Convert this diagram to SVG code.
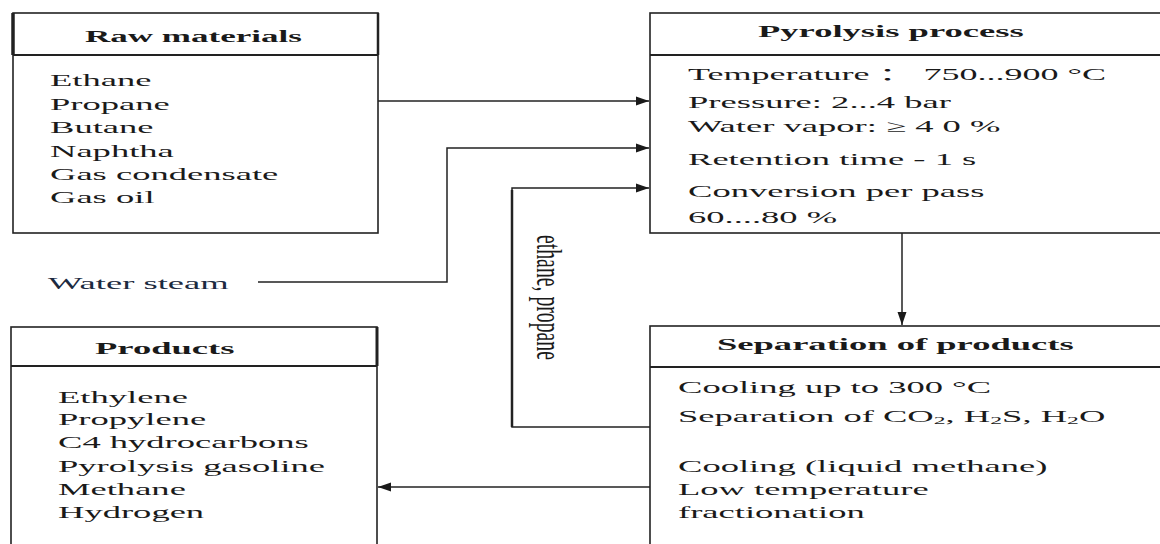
<svg xmlns="http://www.w3.org/2000/svg" width="1160" height="544" viewBox="0 0 1160 544">
<style>
.t{font-family:"Liberation Serif","Noto Sans CJK SC",serif;font-size:17px;fill:#1a1a1a}
.h{font-weight:bold}
.box{fill:#fff;stroke:#222;stroke-width:1.6}
.sep{stroke:#222;stroke-width:2}
.conn{fill:none;stroke:#222;stroke-width:1.5}
</style>
<defs>
<marker id="arr" markerUnits="userSpaceOnUse" markerWidth="14" markerHeight="10" refX="13" refY="5" orient="auto">
<path d="M0,0.5 L13,5 L0,9.5 Z" fill="#1a1a1a"/>
</marker>
</defs>
<rect width="1160" height="544" fill="#fff"/>

<g id="connectors">
<line class="conn" x1="378" y1="101" x2="649" y2="101" marker-end="url(#arr)"/>
<polyline class="conn" points="258,282 447,282 447,148 649,148" marker-end="url(#arr)"/>
<polyline class="conn" points="650,427 512,427 512,188 649,188" marker-end="url(#arr)"/>
<line x1="512" y1="190" x2="512" y2="427" stroke="#222" stroke-width="2.5"/>
<line class="conn" x1="902" y1="233" x2="902" y2="325" marker-end="url(#arr)"/>
<line class="conn" x1="650" y1="487" x2="378" y2="487" marker-end="url(#arr)"/>
<text class="t" transform="translate(537,235) scale(2.15,1) rotate(90)" textLength="125" lengthAdjust="spacingAndGlyphs">ethane, propane</text>
</g>

<g id="raw-materials">
<rect class="box" x="13" y="13" width="365" height="220"/>
<line class="sep" x1="13" y1="55" x2="378" y2="55"/>
<line x1="13" y1="13" x2="13" y2="55" stroke="#222" stroke-width="3.5"/>
<line x1="378" y1="13" x2="378" y2="55" stroke="#222" stroke-width="2.5"/>
<text class="t h" transform="translate(85,42) scale(2.06,1)">Raw materials</text>
<text class="t" transform="translate(50,86) scale(2.15,1)">Ethane</text>
<text class="t" transform="translate(50,110) scale(2.15,1)">Propane</text>
<text class="t" transform="translate(50,133) scale(2.15,1)">Butane</text>
<text class="t" transform="translate(50,157) scale(2.15,1)">Naphtha</text>
<text class="t" transform="translate(50,180) scale(2.15,1)">Gas condensate</text>
<text class="t" transform="translate(50,203) scale(2.15,1)">Gas oil</text>
</g>

<g id="water-steam">
<text class="t" transform="translate(48,289) scale(2.15,1)" style="fill:#1c2a40">Water steam</text>
</g>

<g id="pyrolysis-process">
<rect class="box" x="650" y="13" width="520" height="220"/>
<line class="sep" x1="650" y1="55" x2="1170" y2="55"/>
<text class="t h" transform="translate(758,37) scale(2.15,1)">Pyrolysis process</text>
<text class="t" transform="translate(688,80) scale(2.12,1)">Temperature ： 750...900 °C</text>
<text class="t" transform="translate(688,108) scale(2.15,1)">Pressure: 2...4 bar</text>
<text class="t" transform="translate(688,132) scale(2.15,1)">Water vapor: ≥ 4 0 %</text>
<text class="t" transform="translate(688,165) scale(2.15,1)">Retention time - 1 s</text>
<text class="t" transform="translate(688,197) scale(2.15,1)">Conversion per pass</text>
<text class="t" transform="translate(688,223) scale(2.15,1)">60....80 %</text>
</g>

<g id="separation-of-products">
<rect class="box" x="650" y="326" width="520" height="230"/>
<line class="sep" x1="650" y1="367" x2="1170" y2="367"/>
<text class="t h" transform="translate(717,350) scale(2.15,1)">Separation of products</text>
<text class="t" transform="translate(678,393) scale(2.15,1)">Cooling up to 300 °C</text>
<text class="t" transform="translate(678,422) scale(2.15,1)">Separation of CO<tspan font-size="11" dy="2">2</tspan><tspan dy="-2">, H</tspan><tspan font-size="11" dy="2">2</tspan><tspan dy="-2">S, H</tspan><tspan font-size="11" dy="2">2</tspan><tspan dy="-2">O</tspan></text>
<text class="t" transform="translate(678,472) scale(2.15,1)">Cooling (liquid methane)</text>
<text class="t" transform="translate(678,495) scale(2.15,1)">Low temperature</text>
<text class="t" transform="translate(678,518) scale(2.15,1)">fractionation</text>
</g>

<g id="products">
<rect class="box" x="11" y="327" width="366" height="230"/>
<line class="sep" x1="11" y1="366" x2="377" y2="366"/>
<line x1="377" y1="327" x2="377" y2="366" stroke="#222" stroke-width="3"/>
<text class="t h" transform="translate(95,354) scale(2.15,1)">Products</text>
<text class="t" transform="translate(58,403) scale(2.15,1)">Ethylene</text>
<text class="t" transform="translate(58,425) scale(2.15,1)">Propylene</text>
<text class="t" transform="translate(58,448) scale(2.15,1)">C4 hydrocarbons</text>
<text class="t" transform="translate(58,472) scale(2.15,1)">Pyrolysis gasoline</text>
<text class="t" transform="translate(58,495) scale(2.15,1)">Methane</text>
<text class="t" transform="translate(58,518) scale(2.15,1)">Hydrogen</text>
</g>
</svg>
